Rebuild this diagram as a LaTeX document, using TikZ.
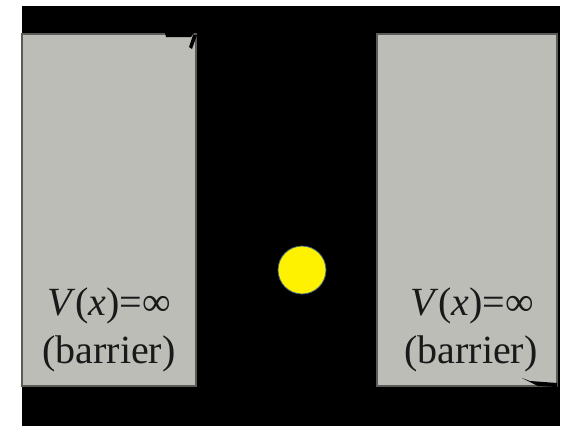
\documentclass[tikz,border=0pt]{standalone}
\usepackage{fontspec}
\setmainfont{Liberation Serif}
\definecolor{wallgray}{RGB}{187,189,182}
\definecolor{walledge}{RGB}{90,92,88}
\definecolor{balledge}{RGB}{60,100,130}
\definecolor{labelink}{RGB}{25,25,25}
\tikzset{
  wall/.style={fill=wallgray, draw=walledge, line width=1.3pt},
  walltext/.style={font=\fontsize{40}{46}\selectfont, text=labelink, align=center, inner sep=0pt},
  ball/.style={circle, fill=yellow, draw=balledge, line width=0.8pt, minimum size=48pt, inner sep=0pt}
}
\begin{document}
\begin{tikzpicture}[x=1pt, y=-1pt]
  \useasboundingbox (0,0) rectangle (566,426);
  \fill[white] (0,0) rectangle (566,426);
  % well interior
  \fill[black] (22,6) rectangle (560,426);
  % infinite walls
  \draw[wall] (22,34) rectangle (196,386);
  \draw[wall] (377,34) rectangle (557,386);
  % small defects at the wall corners
  \fill[black] (165,33) -- (194,33) -- (191,37) -- (166,37) -- cycle;
  \fill[black] (197,35) -- (192,49) -- (189,47) -- (193,35) -- cycle;
  \fill[black] (522,378) -- (530,381) -- (557,383) -- (557,387) -- (538,386) -- cycle;
  % particle
  \node[ball] (p) at (302,270) {};
  % labels
  \node[walltext, anchor=base] (vl) at (109,315) {\textit{V}(\textit{x})=∞};
  \node[walltext, anchor=base] (bl) at (109,363) {(barrier)};
  \node[walltext, anchor=base] (vr) at (472,315) {\textit{V}(\textit{x})=∞};
  \node[walltext, anchor=base] (br) at (471,363) {(barrier)};
\end{tikzpicture}
\end{document}
